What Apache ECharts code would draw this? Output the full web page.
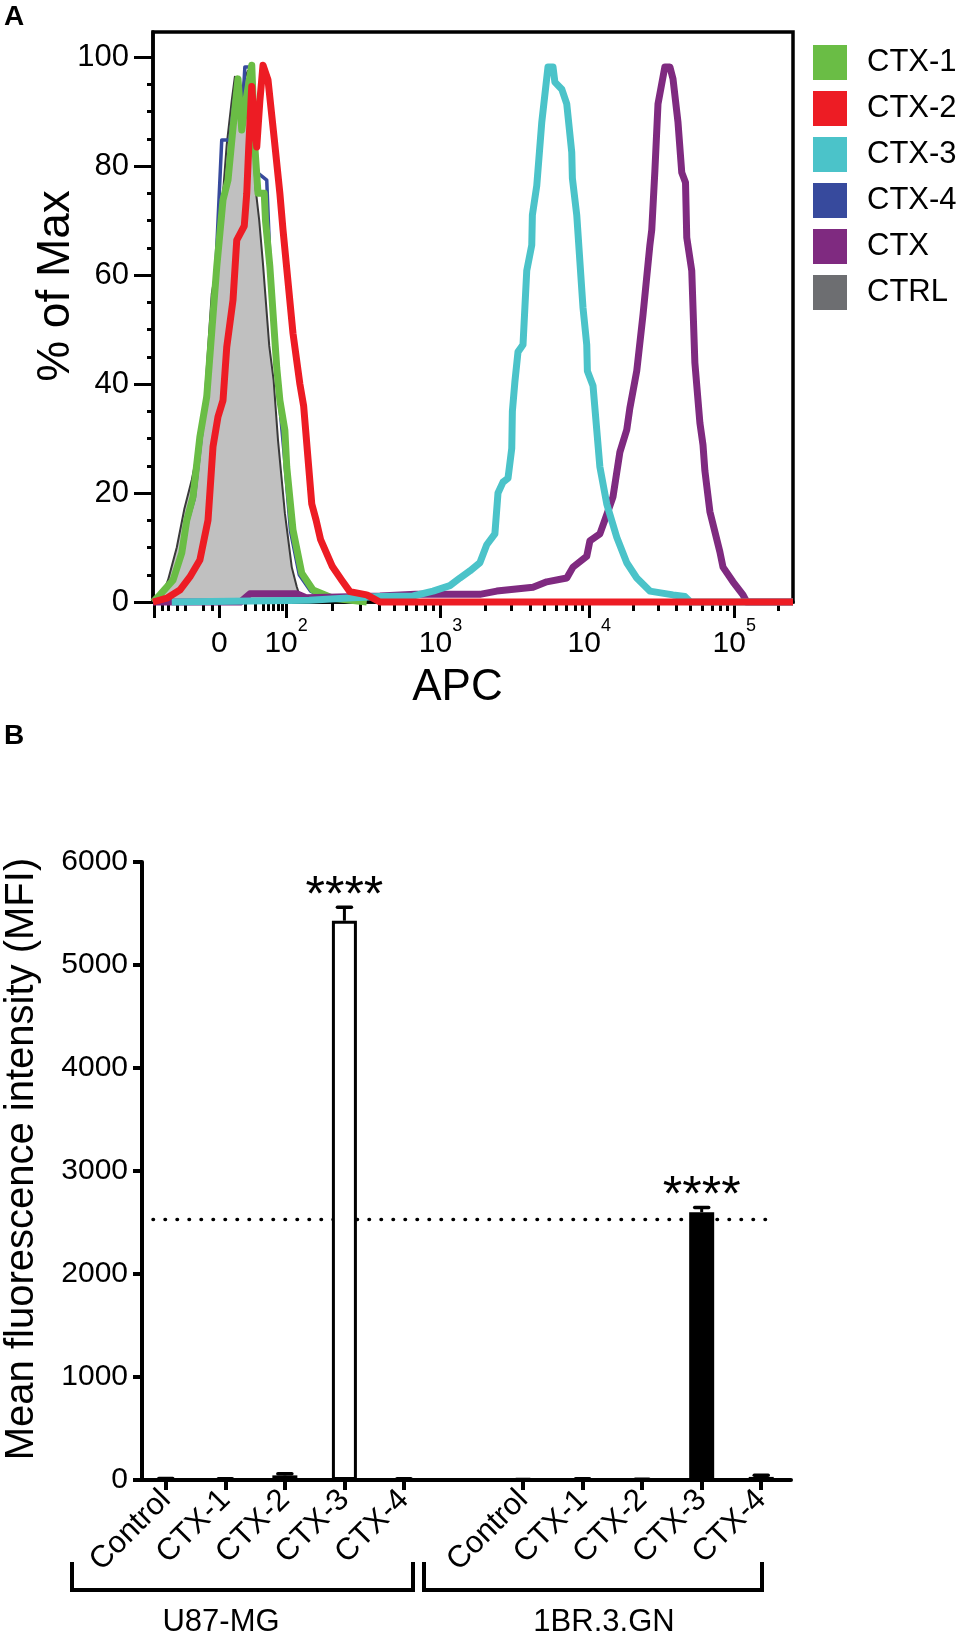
<!DOCTYPE html>
<html>
<head>
<meta charset="utf-8">
<title>CTX binding - APC histograms and MFI</title>
<script src="https://cdn.jsdelivr.net/npm/echarts@6/dist/echarts.min.js"></script>
<style>
  html, body { margin: 0; padding: 0; background: #fff; }
  #chart { width: 961px; height: 1645px; }
</style>
</head>
<body>
<div id="chart"></div>
<script>
// ---------- Panel A: histograms, x = display channel (0-1024), y = % of max ----------
const ctrl = [[0, 0], [14, 1], [24, 4], [38, 10], [50, 17], [62, 22.4], [72, 28], [82, 36], [94, 56.6], [102, 62],
  [110, 72], [118, 84], [126, 92], [131, 96.4], [138, 90], [146, 96], [152, 97.5], [158, 90], [164, 76], [170, 70],
  [176, 62], [186, 47], [193, 40.7], [200, 29.7], [211, 16.3], [222, 6.4], [230, 2.8], [235, 1], [245, 0]]
const ctx4 = [[0, 0], [12, 1], [30, 4], [46, 9], [56, 15], [66, 19], [77, 30], [88, 40], [100, 60], [110, 84.8],
  [123, 84.8], [130, 92], [136, 96], [142, 88], [147, 98.2], [158, 98.2], [164, 82], [168, 78.7], [182, 77.4],
  [188, 60], [198, 42], [210, 27], [220, 13], [234, 5], [252, 2], [280, 0.5], [320, 0]]
const ctx1 = [[0, 0], [11, 1.3], [32, 4], [46, 9], [54, 15], [64, 19.3], [75, 30.3], [86, 37.7], [102, 61.5],
  [112, 73.8], [120, 77.4], [128, 87], [136, 96], [142, 86.6], [150, 93], [158, 98.5], [163, 83.5], [168, 75],
  [178, 75], [180, 70], [187, 61.5], [198, 43], [203, 37], [211, 31.5], [214, 24.8], [224, 13.2], [238, 5.3],
  [256, 2.2], [288, 0.7], [342, 0]]
const ctx = [[0, 0], [140, 0], [155, 1.5], [230, 1.5], [245, 0.8], [363, 1.1], [420, 1.4], [523, 1.4], [550, 2],
  [608, 2.7], [630, 3.7], [662, 4.4], [672, 6.4], [694, 8.4], [699, 11.2], [715, 12.5], [726, 16], [736, 19.3],
  [747, 27.5], [758, 31.6], [763, 35.6], [774, 42.4], [784, 52.7], [795, 65.5], [798, 68.3], [803, 79.1],
  [808, 91.4], [819, 98.2], [827, 98.2], [832, 96], [840, 88], [846, 78.8], [852, 77], [854, 66.9], [862, 60.8],
  [867, 43.9], [875, 32.9], [880, 28.8], [883, 24.1], [891, 16.6], [907, 9.2], [912, 6.4], [928, 3.7], [944, 1.3],
  [950, 0], [1024, 0]]
const ctx3 = [[30, 0], [250, 0.3], [320, 0.8], [363, 1], [416, 1.1], [448, 2], [475, 3], [491, 4.4], [507, 5.7],
  [523, 7.2], [534, 10.5], [547, 12.5], [552, 20], [560, 22], [568, 22.7], [574, 28.2], [575, 35], [579, 40.4],
  [584, 45.9], [592, 47.2], [598, 60.8], [606, 65.5], [607, 71], [614, 76.4], [622, 88], [632, 98.2], [640, 98.2],
  [643, 95.4], [654, 94.1], [662, 91.4], [670, 82.5], [671, 77.8], [678, 71], [688, 54], [694, 47.2], [695, 42.4],
  [704, 39.7], [715, 24.8], [726, 18], [742, 11.9], [758, 7.2], [774, 4.4], [795, 2], [832, 1.3], [851, 1],
  [860, 0], [1024, 0]]
const ctx2 = [[0, 0], [22, 0.7], [43, 2.2], [59, 4.6], [75, 7.7], [88, 15], [96, 28.5], [104, 34], [112, 37],
  [118, 46.8], [128, 55.4], [134, 66.4], [146, 69], [150, 75], [153, 83], [158, 94.6], [162, 88], [166, 83.5],
  [171, 92], [176, 98.5], [184, 95.8], [194, 85], [203, 75], [208, 68.3], [224, 49.3], [235, 40], [241, 36],
  [254, 18], [261, 15], [268, 11.5], [287, 6.5], [302, 4], [315, 1.9], [342, 1.3], [363, 0], [1024, 0]]

// tick positions of the biexponential APC scale, in channels
const apcMajorTicks = [2, 106, 213, 460, 698, 930]
const apcLabelChannels = [106, 213, 460, 698, 930]
const apcLabelExponents = [null, 2, 3, 4, 5]
const apcDecades = [213, 460, 698, 930]
const apcLinearMinor = [14, 24, 38, 51, 80, 94, 147, 163, 176, 184, 192, 200, 206]
const pctMajor = [0, 20, 40, 60, 80, 100]
const pctMinor = [5, 10, 15, 25, 30, 35, 45, 50, 55, 65, 70, 75, 85, 90, 95]

// ---------- Panel B: mean fluorescence intensity ----------
const mfiCategories = ['Control', 'CTX-1', 'CTX-2', 'CTX-3', 'CTX-4']
const u87Mean = [10, 8, 45, 5430, 8]
const u87Sd = [5, 3, 15, 130, 3]
const u87Stars = ['', '', '', '****', '']
const brMean = [3, 8, 5, 2600, 30]
const brSd = [2, 3, 2, 45, 15]
const brStars = ['', '', '', '****', '']
const mfiReference = 2530
const cellLines = ['U87-MG', '1BR.3.GN']

const FONT = '"Liberation Sans", Arial, Helvetica, sans-serif'

/**
 * log-spaced minor ticks (2..9) inside every decade of the APC axis
 */
const decadeMinorTicks = () => {
  const ticks = []
  apcDecades.forEach((start, i) => {
    const width = i < apcDecades.length - 1
      ? apcDecades[i + 1] - start
      : start - apcDecades[i - 1]
    for (let k = 2; k <= 9; k++) {
      const c = start + width * Math.log10(k)
      if (c < 1024) ticks.push(c)
    }
  })
  return ticks
}

const apcLabel = value => {
  let best = 0
  apcLabelChannels.forEach((c, i) => {
    if (Math.abs(c - value) < Math.abs(apcLabelChannels[best] - value)) best = i
  })
  const exp = apcLabelExponents[best]
  return exp === null ? '{base|0}' : '{base|10}{sup|' + exp + '}'
}

const histSeries = (name, data, color, width, extra) => Object.assign({
  name,
  type: 'line',
  xAxisIndex: 0,
  yAxisIndex: 0,
  data,
  showSymbol: false,
  symbol: 'none',
  clip: false,
  color,
  itemStyle: { color },
  lineStyle: { color, width, join: 'round' },
}, extra || {})

// ---------- Panel B data built from the arrays ----------
const mfiAxis = [...mfiCategories, '', ...mfiCategories]
const offsetBr = mfiCategories.length + 1
const barData = [
  ...u87Mean.map(v => ({ value: v, itemStyle: { color: '#fff' } })),
  '-',
  ...brMean.map(v => ({ value: v, itemStyle: { color: '#000' } })),
]
const errorData = [
  ...u87Mean.map((v, i) => [i, v, u87Sd[i]]),
  ...brMean.map((v, i) => [offsetBr + i, v, brSd[i]]),
]
const errorStars = [...u87Stars, ...brStars]

const renderErrorBar = (params, api) => {
  const x = api.value(0)
  const mean = api.value(1)
  const sd = api.value(2)
  const base = api.coord([x, mean])
  const top = api.coord([x, mean + sd])
  const half = 7
  const children = [
    {
      type: 'line',
      shape: { x1: base[0], y1: base[1], x2: top[0], y2: top[1] },
      style: { stroke: '#000', lineWidth: 3 },
    },
    {
      type: 'line',
      shape: { x1: top[0] - half, y1: top[1], x2: top[0] + half, y2: top[1] },
      style: { stroke: '#000', lineWidth: 3.5, lineCap: 'round' },
    },
  ]
  const star = errorStars[params.dataIndex]
  if (star) {
    children.push({
      type: 'text',
      x: top[0],
      y: top[1] - 10,
      style: {
        text: star, fill: '#000', fontSize: 50, fontFamily: FONT,
        align: 'center', verticalAlign: 'middle',
      },
    })
  }
  return { type: 'group', children }
}

const renderReference = (params, api) => {
  const y = api.coord([0, api.value(0)])[1]
  const cs = params.coordSys
  return {
    type: 'line',
    shape: { x1: cs.x + 17, y1: y, x2: cs.x + cs.width - 25, y2: y },
    style: { stroke: '#000', lineWidth: 3.5, lineDash: [0.5, 11.5], lineCap: 'round' },
  }
}

const bracket = (x1, x2) => ({
  type: 'polyline',
  shape: { points: [[x1, 1562], [x1, 1590], [x2, 1590], [x2, 1562]] },
  style: { stroke: '#000', lineWidth: 4, fill: null },
})

const groupLabel = (text, x) => ({
  type: 'text',
  x,
  y: 1622,
  style: { text, fill: '#000', fontSize: 31, fontFamily: FONT, align: 'center', verticalAlign: 'middle' },
})

const axisBlack = width => ({ show: true, lineStyle: { color: '#000', width } })

const option = {
  animation: false,
  backgroundColor: '#fff',
  textStyle: { fontFamily: FONT, color: '#000' },
  title: [
    { text: 'A', left: 4, top: 3, padding: 0, textStyle: { fontSize: 28, fontWeight: 'bold', color: '#000', fontFamily: FONT } },
    { text: 'B', left: 4, top: 722, padding: 0, textStyle: { fontSize: 28, fontWeight: 'bold', color: '#000', fontFamily: FONT } },
  ],
  legend: {
    orient: 'vertical',
    left: 813,
    top: 45,
    padding: 0,
    icon: 'rect',
    itemWidth: 34,
    itemHeight: 35,
    itemGap: 11,
    selectedMode: false,
    itemStyle: { borderWidth: 0 },
    textStyle: { fontSize: 31, color: '#000', fontFamily: FONT, padding: [12, 0, 0, 15] },
    data: [
      { name: 'CTX-1' },
      { name: 'CTX-2' },
      { name: 'CTX-3' },
      { name: 'CTX-4' },
      { name: 'CTX' },
      { name: 'CTRL', itemStyle: { color: '#6D6E71' } },
    ],
  },
  grid: [
    {
      left: 153, top: 32, width: 640, height: 570,
      show: true, borderColor: '#000', borderWidth: 3.5, backgroundColor: 'transparent',
      outerBoundsMode: 'none',
    },
    { left: 136, top: 862, width: 655, height: 618, outerBoundsMode: 'none' },
  ],
  xAxis: [
    {
      gridIndex: 0, type: 'value', min: 0, max: 1024, position: 'bottom',
      axisLine: axisBlack(3.5),
      axisTick: { show: true, customValues: apcMajorTicks, length: 16, lineStyle: { color: '#000', width: 3 } },
      axisLabel: {
        customValues: apcLabelChannels,
        formatter: apcLabel,
        margin: 15,
        color: '#000',
        rich: {
          base: { fontSize: 30, lineHeight: 54, fontFamily: FONT, color: '#000' },
          sup: { fontSize: 18, lineHeight: 18, padding: [0, 0, 36, 0], fontFamily: FONT, color: '#000' },
        },
      },
      splitLine: { show: false },
      name: 'APC',
      nameLocation: 'middle',
      nameGap: 64,
      nameMoveOverlap: false,
      nameTextStyle: { fontSize: 44, color: '#000', fontFamily: FONT, padding: [0, 31, 0, 0] },
    },
    {
      gridIndex: 0, type: 'value', min: 0, max: 1024, position: 'bottom',
      axisLine: { show: false },
      axisTick: { show: true, customValues: [...apcLinearMinor, ...decadeMinorTicks()], length: 9, lineStyle: { color: '#000', width: 3 } },
      axisLabel: { show: false },
      splitLine: { show: false },
    },
    {
      gridIndex: 1, type: 'category', data: mfiAxis, position: 'bottom',
      axisLine: axisBlack(4),
      axisTick: {
        show: true, alignWithLabel: true, length: 10,
        interval: idx => mfiAxis[idx] !== '',
        lineStyle: { color: '#000', width: 4 },
      },
      axisLabel: { interval: 0, rotate: 45, fontSize: 31, margin: 15, color: '#000', fontFamily: FONT },
      splitLine: { show: false },
    },
  ],
  yAxis: [
    {
      gridIndex: 0, type: 'value', min: 0, max: 104.6, position: 'left',
      axisLine: axisBlack(3.5),
      axisTick: { show: true, customValues: pctMajor, length: 19, lineStyle: { color: '#000', width: 3 } },
      axisLabel: { customValues: pctMajor, fontSize: 31, margin: 24, color: '#000', fontFamily: FONT },
      splitLine: { show: false },
      name: '% of Max',
      nameLocation: 'middle',
      nameGap: 74,
      nameMoveOverlap: false,
      nameTextStyle: { fontSize: 46, color: '#000', fontFamily: FONT, padding: [0, 0, 0, 62] },
    },
    {
      gridIndex: 0, type: 'value', min: 0, max: 104.6, position: 'left',
      axisLine: { show: false },
      axisTick: { show: true, customValues: pctMinor, length: 6, lineStyle: { color: '#000', width: 3 } },
      axisLabel: { show: false },
      splitLine: { show: false },
    },
    {
      gridIndex: 1, type: 'value', min: 0, max: 6000, interval: 1000, position: 'left', offset: -6,
      axisLine: axisBlack(4),
      axisTick: { show: true, length: 9, lineStyle: { color: '#000', width: 4 } },
      axisLabel: { fontSize: 30, margin: 14, color: '#000', fontFamily: FONT, formatter: v => String(v) },
      splitLine: { show: false },
      name: 'Mean fluorescence intensity (MFI)',
      nameLocation: 'middle',
      nameGap: 100,
      nameTextStyle: { fontSize: 40, color: '#000', fontFamily: FONT, padding: [0, 0, 0, 24] },
    },
  ],
  series: [
    histSeries('CTRL', ctrl, '#3a3a3a', 2, { areaStyle: { color: '#C0C0C0', opacity: 1 } }),
    histSeries('CTX-4', ctx4, '#374A9D', 3.5),
    histSeries('CTX-1', ctx1, '#6ABD45', 7),
    histSeries('CTX', ctx, '#7F2A80', 7),
    histSeries('CTX-3', ctx3, '#4BC3C9', 7),
    histSeries('CTX-2', ctx2, '#ED1C24', 7),
    {
      name: 'reference',
      type: 'custom',
      xAxisIndex: 2,
      yAxisIndex: 2,
      data: [[mfiReference]],
      encode: { y: 0 },
      renderItem: renderReference,
      z: 1,
    },
    {
      name: 'MFI',
      type: 'bar',
      xAxisIndex: 2,
      yAxisIndex: 2,
      data: barData,
      barWidth: 25,
      itemStyle: { borderColor: '#000', borderWidth: 3 },
      z: 3,
    },
    {
      name: 'SD',
      type: 'custom',
      xAxisIndex: 2,
      yAxisIndex: 2,
      data: errorData,
      encode: { x: 0, y: 1 },
      renderItem: renderErrorBar,
      z: 4,
    },
  ],
  graphic: [
    bracket(72, 413),
    bracket(424, 762),
    groupLabel(cellLines[0], 221),
    groupLabel(cellLines[1], 604),
  ],
}

const chart = echarts.init(document.getElementById('chart'))
chart.setOption(option)
</script>
</body>
</html>
